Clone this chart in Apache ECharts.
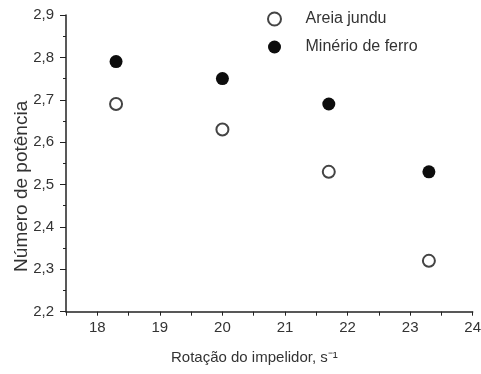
<!DOCTYPE html>
<html>
<head>
<meta charset="utf-8">
<script src="https://cdn.jsdelivr.net/npm/echarts@6/dist/echarts.min.js"></script>
<style>html,body{margin:0;padding:0;background:#fff}#c{width:481px;height:374px}</style>
</head>
<body>
<div id="c"></div>
<script>
var xAreia = [18.3, 20.0, 21.7, 23.3];
var yAreia = [2.69, 2.63, 2.53, 2.32];
var xMinerio = [18.3, 20.0, 21.7, 23.3];
var yMinerio = [2.79, 2.75, 2.69, 2.53];
var seriesNames = ['Areia jundu', 'Minério de ferro'];
var xTitle = 'Rotação do impelidor, s⁻¹';
var yTitle = 'Número de potência';

var FONT = "'Liberation Sans', Arial, Helvetica, sans-serif";
var chart = echarts.init(document.getElementById('c'), null, {renderer: 'canvas'});
function pairs(xs, ys) { return xs.map(function (x, i) { return [x, ys[i]]; }); }

chart.setOption({
  animation: false,
  backgroundColor: '#fff',
  grid: {left: 66, right: 8.3, top: 15, bottom: 62.3, containLabel: false, outerBoundsMode: 'none'},
  legend: {
    orient: 'vertical', left: 262, top: 6,
    itemWidth: 52, itemHeight: 13, itemGap: 12,
    textStyle: {fontFamily: FONT, fontSize: 16, color: '#333'},
    data: seriesNames
  },
  xAxis: {
    type: 'value', min: 17.5, max: 24, interval: 0.5,
    name: xTitle, nameLocation: 'middle', nameGap: 39, nameMoveOverlap: false,
    nameTextStyle: {fontFamily: FONT, fontSize: 15, color: '#333', padding: [0, 30, 0, 0]},
    axisLine: {show: true, lineStyle: {color: '#222', width: 1.5}},
    axisTick: {show: true, length: 4, lineStyle: {color: '#222', width: 1}},
    axisLabel: {
      fontFamily: FONT, fontSize: 15, color: '#333', margin: 9,
      formatter: function (v) { return Math.abs(v - Math.round(v)) < 1e-6 && v > 17.6 ? String(Math.round(v)) : ''; }
    },
    splitLine: {show: false}
  },
  yAxis: {
    type: 'value', min: 2.2, max: 2.9, interval: 0.1,
    name: yTitle, nameLocation: 'middle', nameGap: 35, nameRotate: 90, nameMoveOverlap: false,
    nameTextStyle: {fontFamily: FONT, fontSize: 19, color: '#333', padding: [0, 46, 0, 0]},
    axisLine: {show: true, lineStyle: {color: '#222', width: 1.5}},
    axisTick: {show: true, length: 6, lineStyle: {color: '#222', width: 1}},
    minorTick: {show: true, splitNumber: 2, length: 3, lineStyle: {color: '#222', width: 1}},
    axisLabel: {
      fontFamily: FONT, fontSize: 15, color: '#333', margin: 12,
      formatter: function (v) { return v.toFixed(1).replace('.', ','); }
    },
    splitLine: {show: false}
  },
  series: [
    {
      name: seriesNames[0], type: 'scatter', symbol: 'circle', symbolSize: 12,
      itemStyle: {color: '#fff', borderColor: '#444', borderWidth: 2, opacity: 1},
      data: pairs(xAreia, yAreia), z: 3
    },
    {
      name: seriesNames[1], type: 'scatter', symbol: 'circle', symbolSize: 13,
      itemStyle: {color: '#0d0d0d', opacity: 1},
      data: pairs(xMinerio, yMinerio), z: 3
    }
  ]
});
</script>
</body>
</html>
